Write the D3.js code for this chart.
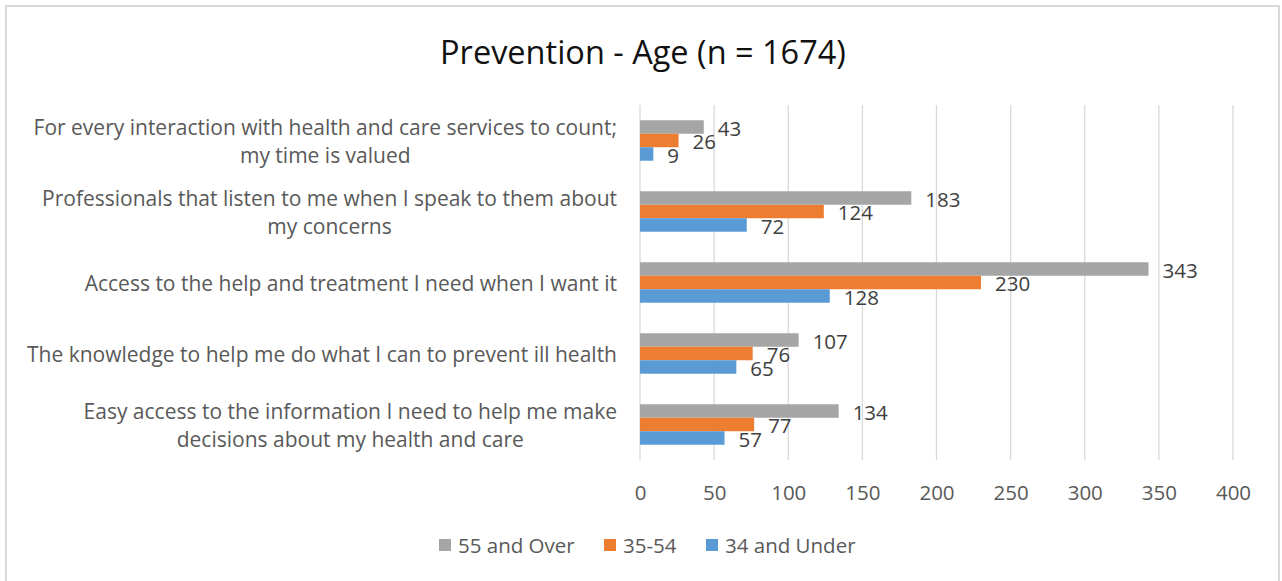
<!DOCTYPE html>
<html>
<head>
<meta charset="utf-8">
<script src="https://cdn.jsdelivr.net/npm/d3@7"></script>
<style>
  html, body { margin: 0; padding: 0; background: #fff; }
  svg { display: block; font-family: "Open Sans", sans-serif; }
</style>
</head>
<body>
<svg id="chart" width="1282" height="581"></svg>
<script>
const title = "Prevention - Age (n = 1674)";
const categories = [
  "For every interaction with health and care services to count; my time is valued",
  "Professionals that listen to me when I speak to them about my concerns",
  "Access to the help and treatment I need when I want it",
  "The knowledge to help me do what I can to prevent ill health",
  "Easy access to the information I need to help me make decisions about my health and care"
];
const categoryLines = [
  ["For every interaction with health and care services to count;", "my time is valued"],
  ["Professionals that listen to me when I speak to them about", "my concerns"],
  ["Access to the help and treatment I need when I want it"],
  ["The knowledge to help me do what I can to prevent ill health"],
  ["Easy access to the information I need to help me make", "decisions about my health and care"]
];
const seriesNames = ["55 and Over", "35-54", "34 and Under"];
const over55 = [43, 183, 343, 107, 134];
const age35to54 = [26, 124, 230, 76, 77];
const under34 = [9, 72, 128, 65, 57];
const tickValues = [0, 50, 100, 150, 200, 250, 300, 350, 400];
const colors = ["#a5a5a5", "#ed7d31", "#5b9bd5"];

const seriesValues = [over55, age35to54, under34];

const svg = d3.select("#chart");

// outer frame
svg.append("rect")
  .attr("x", 6).attr("y", 6).attr("width", 1273).attr("height", 590)
  .attr("fill", "#fff").attr("stroke", "#d9d9d9").attr("stroke-width", 2);

// title
svg.append("text")
  .attr("x", 643).attr("y", 51)
  .attr("text-anchor", "middle").attr("dominant-baseline", "central")
  .attr("font-size", 32.5).attr("fill", "#111")
  .text(title);

const x = d3.scaleLinear().domain([0, 400]).range([640, 1233]);
const y = d3.scaleBand().domain(categories).range([105, 460])
  .paddingInner(0.43).paddingOuter(0.215);
const ySub = d3.scaleBand().domain(seriesNames).range([0, y.bandwidth()]);

// gridlines
svg.append("g").selectAll("line").data(tickValues).join("line")
  .attr("x1", d => x(d)).attr("x2", d => x(d))
  .attr("y1", 105).attr("y2", 460)
  .attr("stroke", "#d9d9d9").attr("stroke-width", 1.3);

// x axis tick labels
const xAxis = d3.axisBottom(x).tickValues(tickValues).tickSize(0).tickPadding(0);
const gx = svg.append("g").attr("transform", "translate(0,492)").call(xAxis);
gx.select(".domain").remove();
gx.selectAll("text")
  .attr("dy", null).attr("y", 0)
  .attr("dominant-baseline", "central")
  .attr("font-family", "Open Sans, sans-serif")
  .attr("font-size", 20.5).attr("fill", "#595959");

// bars
const groups = svg.append("g").selectAll("g").data(categories).join("g")
  .attr("transform", d => `translate(0,${y(d)})`);

groups.each(function(cat, ci) {
  const g = d3.select(this);
  seriesNames.forEach((s, si) => {
    const v = seriesValues[si][ci];
    g.append("rect")
      .attr("x", x(0)).attr("y", ySub(s))
      .attr("width", x(v) - x(0)).attr("height", ySub.bandwidth())
      .attr("fill", colors[si]);
  });
  seriesNames.forEach((s, si) => {
    const v = seriesValues[si][ci];
    g.append("text")
      .attr("x", x(v) + 14).attr("y", ySub(s) + ySub.bandwidth() / 2 + 1)
      .attr("dominant-baseline", "central")
      .attr("font-size", 20.5).attr("fill", "#404040")
      .text(v);
  });
});

// category labels
const lineH = 28;
categories.forEach((cat, ci) => {
  const lines = categoryLines[ci];
  const cy = y(cat) + y.bandwidth() / 2;
  const t = svg.append("text")
    .attr("font-size", 21).attr("fill", "#595959")
    .attr("text-anchor", "middle").attr("dominant-baseline", "central");
  const tspans = lines.map((ln, li) =>
    t.append("tspan").attr("y", cy + (li - (lines.length - 1) / 2) * lineH).text(ln));
  const w = d3.max(tspans, ts => ts.node().getComputedTextLength());
  tspans.forEach(ts => ts.attr("x", 617 - w / 2));
});

// legend
const legendItems = [
  { name: seriesNames[0], color: colors[0], x: 439 },
  { name: seriesNames[1], color: colors[1], x: 604 },
  { name: seriesNames[2], color: colors[2], x: 706 }
];
const lg = svg.append("g");
legendItems.forEach(it => {
  lg.append("rect").attr("x", it.x).attr("y", 539).attr("width", 12).attr("height", 12)
    .attr("fill", it.color);
  lg.append("text").attr("x", it.x + 19).attr("y", 545)
    .attr("dominant-baseline", "central")
    .attr("font-size", 20.5).attr("fill", "#595959").text(it.name);
});
</script>
</body>
</html>
